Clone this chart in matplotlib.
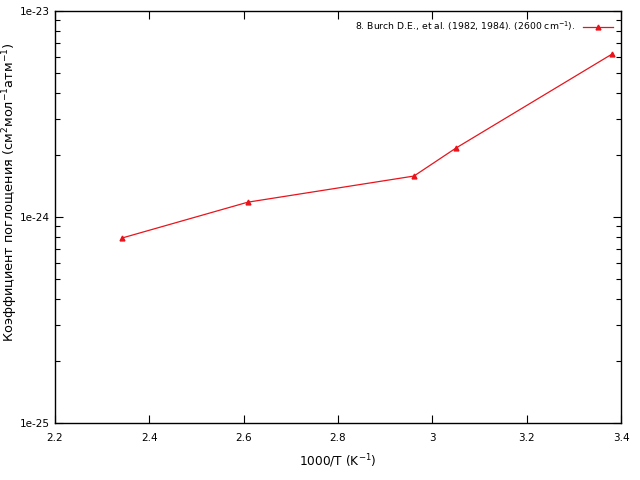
import math
import matplotlib
matplotlib.use('Agg')
import matplotlib.pyplot as plt
from matplotlib.ticker import FixedLocator, LogLocator, FuncFormatter, NullFormatter

plt.rcParams['font.family'] = ['DejaVu Sans']

# Data
inv_temp = [2.342, 2.609, 2.961, 3.050, 3.381]
absorption = [7.9e-25, 1.18e-24, 1.58e-24, 2.16e-24, 6.18e-24]
series_label = '8. Burch D.E., et al. (1982, 1984). (2600 cm$^{-1}$).'

xticks = [2.2, 2.4, 2.6, 2.8, 3.0, 3.2, 3.4]
yticks = [1e-25, 1e-24, 1e-23]

fig = plt.figure(figsize=(6.4, 4.8), dpi=100)
ax = fig.add_axes([0.0859, 0.119, 0.8844, 0.858])

ax.plot(inv_temp, absorption, color='#e8141c', lw=0.9, marker='^', ms=3.5,
        label=series_label)

ax.set_yscale('log')
ax.set_xlim(2.2, 3.4)
ax.set_ylim(1e-25, 1e-23)

ax.xaxis.set_major_locator(FixedLocator(xticks))
ax.xaxis.set_major_formatter(FuncFormatter(lambda v, p: '%g' % v))
ax.yaxis.set_major_locator(FixedLocator(yticks))
ax.yaxis.set_major_formatter(FuncFormatter(lambda v, p: '1e%d' % round(math.log10(v))))
ax.yaxis.set_minor_locator(LogLocator(base=10, subs=range(2, 10)))
ax.yaxis.set_minor_formatter(NullFormatter())

ax.tick_params(which='both', direction='in', top=True, right=True, labelsize=7.5, color='black')
ax.tick_params(which='major', length=6, width=0.8)
ax.tick_params(axis='x', which='major', pad=7)
ax.tick_params(which='minor', length=3.5, width=0.8)
for s in ax.spines.values():
    s.set_linewidth(1.0)

ax.set_xlabel('1000/T (K$^{-1}$)', fontsize=8.7, labelpad=7)
ax.set_ylabel('Коэффициент поглощения (см$^{2}$мол$^{-1}$атм$^{-1}$)', fontsize=9.3)
ax.yaxis.set_label_coords(-0.062, 0.56)

ax.legend(loc='upper right', frameon=False, markerfirst=False, fontsize=6.7,
          handlelength=3.2, borderaxespad=0.5)

fig.savefig('out.png', dpi=100)
